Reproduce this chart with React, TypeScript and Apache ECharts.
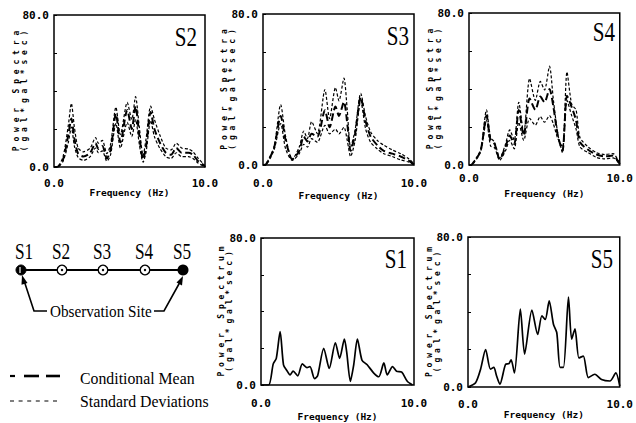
import React, { useEffect, useRef } from "react";
import * as echarts from "echarts";

// ---- data ----
const s2Freq = [0, 0.2, 0.6, 0.95, 1.15, 1.35, 1.6, 1.95, 2.4, 2.75, 2.95, 3.2, 3.5, 3.75, 4.1, 4.4, 4.85, 5.15, 5.4, 5.65, 5.9, 6.1, 6.4, 6.65, 7.0, 7.4, 7.75, 8.1, 8.45, 8.9, 9.2, 9.55, 9.9, 10];
const s2Mean = [0, 0, 4, 17, 25.5, 15, 7, 5.5, 7.5, 12.5, 9.5, 11, 4.5, 9, 28, 13, 30, 20, 32, 16.5, 4, 11, 29, 20, 13, 7.5, 6.5, 10, 7.5, 7.5, 6.5, 3, 1, 0];
const s2Upper = [0, 0, 5.5, 22, 33.5, 21, 10, 8, 10, 15.5, 12.5, 14, 7, 12, 31.5, 17, 34, 25, 37, 21, 6, 15, 32, 25, 17, 10, 9, 12.5, 10, 9.5, 8, 4.5, 1.5, 0];
const s2Lower = [0, 0, 3, 13, 21, 11, 5, 3.5, 5.5, 10, 7.5, 8.5, 3, 6.5, 23, 10, 23.5, 16, 25, 12, 2.5, 8, 24.5, 16, 10, 5.5, 4.5, 7.5, 5.5, 5.5, 4.5, 2, 0.5, 0];

const s3Freq = [0, 0.2, 0.73, 1.17, 1.5, 1.94, 2.4, 2.7, 2.94, 3.22, 3.6, 4.1, 4.41, 4.8, 5.03, 5.36, 5.58, 5.8, 6.1, 6.47, 6.8, 7.13, 7.57, 8.0, 8.56, 9.12, 9.67, 10];
const s3Upper = [0, 0.5, 9.5, 32, 15, 3, 9.5, 18, 14, 23, 16.5, 40, 24.5, 41, 34, 46, 29, 9.5, 18.5, 38, 25.5, 17.5, 13, 10.5, 8, 6, 3.2, 0.5];
const s3Mean = [0, 0.3, 9, 26, 13, 3, 7.5, 15, 12.5, 16.5, 15, 29, 20, 31, 26, 33.5, 22, 7.5, 16.5, 36, 23, 15, 10.5, 7.5, 6, 4.5, 2.2, 0.3];
const s3Lower = [0, 0.2, 8, 22, 8.5, 2.5, 6, 11, 9.5, 14, 12, 21, 16.5, 19, 16.5, 20, 13, 4.5, 13, 34, 19, 12, 8.5, 6, 4.5, 2.7, 1.5, 0];

const s4Freq = [0, 0.2, 0.77, 1.16, 1.43, 1.7, 2.04, 2.42, 2.7, 3.0, 3.3, 3.63, 4.02, 4.4, 4.73, 5.01, 5.34, 5.6, 5.89, 6.2, 6.5, 6.81, 7.1, 7.36, 7.9, 8.46, 9.0, 9.56, 10];
const s4Upper = [0, 0.5, 8, 29, 14.5, 12, 3.5, 11, 18.5, 13, 33, 16.5, 45.5, 34, 44, 39.5, 52, 34, 16.5, 6.5, 49, 32, 29, 14.5, 9.5, 6.5, 5.5, 6, 0.5];
const s4Mean = [0, 0.3, 7.5, 26, 13, 11, 3, 9.5, 15.5, 11, 29, 15.5, 35, 29, 36, 33, 40, 30.5, 15.5, 7.5, 36.5, 30.5, 23.5, 12, 8, 5.5, 4.5, 5, 0.5];
const s4Lower = [0, 0.2, 7, 23.5, 10, 9, 2.5, 7.5, 13, 8.5, 22.5, 13, 24.5, 21, 25.5, 22.5, 26, 21.5, 14, 9.5, 34, 26, 19, 9.5, 6.5, 4, 3.2, 3.7, 0.3];

const s1Freq = [0, 0.5, 0.8, 1.0, 1.25, 1.47, 1.68, 1.9, 2.1, 2.4, 2.7, 3.0, 3.2, 3.5, 3.7, 4.1, 4.46, 4.86, 5.14, 5.45, 5.6, 5.84, 6.06, 6.3, 6.6, 6.94, 7.37, 7.7, 8.03, 8.25, 8.6, 8.86, 9.2, 9.56, 9.9];
const s1Power = [0, 0, 11.5, 14.5, 29, 11, 8, 5.5, 7.5, 5, 11.5, 9.5, 10, 3.5, 5, 20, 9, 23, 14.5, 25, 18, 2, 11, 25, 13.5, 11, 6.5, 4.5, 12, 5.5, 10, 7.5, 7, 2, 0];

const s5Freq = [0, 0.5, 0.83, 1.16, 1.48, 1.7, 1.88, 2.1, 2.47, 2.7, 2.84, 3.06, 3.45, 3.73, 4.21, 4.59, 4.87, 5.09, 5.35, 5.63, 5.85, 6.07, 6.29, 6.62, 6.83, 7.05, 7.31, 7.6, 7.93, 8.36, 8.8, 9.35, 9.74, 10];
const s5Power = [0, 2.3, 9.5, 20, 9.5, 10.5, 6, 1.5, 12, 12.5, 14.5, 7.5, 41.5, 17.5, 41, 28, 38, 36, 46, 33.5, 29, 10.5, 10.5, 48, 25.5, 31, 15.5, 16.5, 5, 6.8, 4, 3.2, 7.5, 0.5];

const xTickLabels = ["0.0", "10.0"];
const yTickLabels = ["0.0", "80.0"];
const siteNames = ["S1", "S2", "S3", "S4", "S5"];
const legendNames = ["Conditional Mean", "Standard Deviations"];

const pairs = (f: number[], v: number[]) => f.map((x, i) => [x, v[i]]);

const spaced = (s: string) => s.split("").join(" ");

export default function App() {
  const ref = useRef<HTMLDivElement>(null);
  useEffect(() => {
    if (!ref.current) return;
    const chart = echarts.init(ref.current, null, { renderer: "svg" });

    const panels = [
      { name: "S2", left: 54, top: 15, width: 151, height: 152, lab: 11, nameGap: 20, yGap: 26, yTitle: "Power Spectra", title: { x: 197, y: 37 } },
      { name: "S3", left: 263, top: 14, width: 151, height: 151, lab: 13, nameGap: 25, yGap: 27, yTitle: "Power Spectra", title: { x: 409, y: 36 } },
      { name: "S4", left: 469, top: 13, width: 152, height: 152, lab: 8, nameGap: 23, yGap: 27, yTitle: "Power Spectra", title: { x: 615, y: 32 } },
      { name: "S1", left: 261, top: 238, width: 153, height: 147, lab: 13, nameGap: 26, yGap: 28, yTitle: "Power Spectrum", title: { x: 407, y: 259 } },
      { name: "S5", left: 468, top: 237, width: 153, height: 150, lab: 12, nameGap: 22, yGap: 27, yTitle: "Power Spectrum", title: { x: 613, y: 259 } },
    ];

    const mono = "DejaVu Sans Mono";
    const serif = "'Liberation Serif', 'Times New Roman', serif";

    const meanStyle = { color: "#000", width: 2, type: [7, 3.5] as number[] };
    const sdStyle = { color: "#000", width: 1.2, type: [3, 2] as number[] };
    const obsStyle = { color: "#000", width: 1.7, type: "solid" };

    const mk = (idx: number, name: string, data: number[][], ls: any) => ({
      type: "line",
      name,
      xAxisIndex: idx,
      yAxisIndex: idx,
      data,
      showSymbol: false,
      symbol: "none",
      smooth: 0.25,
      lineStyle: ls,
      itemStyle: { color: "#000" },
      z: 3,
    });

    const series = [
      mk(0, "S2 upper", pairs(s2Freq, s2Upper), sdStyle),
      mk(0, "S2 mean", pairs(s2Freq, s2Mean), meanStyle),
      mk(0, "S2 lower", pairs(s2Freq, s2Lower), sdStyle),
      mk(1, "S3 upper", pairs(s3Freq, s3Upper), sdStyle),
      mk(1, "S3 mean", pairs(s3Freq, s3Mean), meanStyle),
      mk(1, "S3 lower", pairs(s3Freq, s3Lower), sdStyle),
      mk(2, "S4 upper", pairs(s4Freq, s4Upper), sdStyle),
      mk(2, "S4 mean", pairs(s4Freq, s4Mean), meanStyle),
      mk(2, "S4 lower", pairs(s4Freq, s4Lower), sdStyle),
      mk(3, "S1", pairs(s1Freq, s1Power), obsStyle),
      mk(4, "S5", pairs(s5Freq, s5Power), obsStyle),
    ];

    const txt = (text: string, x: number, y: number, size: number, sx: number, align: string, font = serif) => ({
      type: "text",
      x,
      y,
      scaleX: sx,
      z: 10,
      style: {
        text,
        font: `${size}px ${font}`,
        fill: "#000",
        align,
        verticalAlign: "middle",
      },
    });

    const siteX = [21, 62, 103, 145, 183];
    const labelX = [24, 61, 102, 144, 182];
    const lineY = 270;

    const graphic: any[] = [];
    panels.forEach((p) => graphic.push(txt(p.name, p.title.x, p.title.y, 27, 0.78, "right")));
    siteNames.forEach((s, i) => graphic.push(txt(s, labelX[i], 251, 23, 0.75, "center")));
    graphic.push({ type: "line", z: 5, shape: { x1: siteX[0], y1: lineY, x2: siteX[4], y2: lineY }, style: { stroke: "#000", lineWidth: 2 } });
    graphic.push({ type: "circle", z: 6, shape: { cx: siteX[0], cy: lineY, r: 5 }, style: { fill: "#000", stroke: "#000", lineWidth: 1 } });
    graphic.push({ type: "line", z: 7, shape: { x1: siteX[0] - 1, y1: lineY - 3, x2: siteX[0] - 1, y2: lineY + 3 }, style: { stroke: "#fff", lineWidth: 1.2 } });
    [1, 2, 3].forEach((i) => {
      graphic.push({ type: "circle", z: 6, shape: { cx: siteX[i], cy: lineY, r: 4.8 }, style: { fill: "#fff", stroke: "#000", lineWidth: 1.4 } });
      graphic.push({ type: "circle", z: 7, shape: { cx: siteX[i], cy: lineY, r: 1.2 }, style: { fill: "#000" } });
    });
    graphic.push({ type: "circle", z: 6, shape: { cx: siteX[4], cy: lineY, r: 5.5 }, style: { fill: "#000" } });
    graphic.push({ type: "polyline", z: 5, shape: { points: [[47, 311], [34, 311], [24.5, 282]] }, style: { stroke: "#000", lineWidth: 1.6, fill: null } });
    graphic.push({ type: "polygon", z: 5, shape: { points: [[22, 275], [27.5, 283], [21.5, 284.8]] }, style: { fill: "#000" } });
    graphic.push({ type: "polyline", z: 5, shape: { points: [[154, 311], [164, 311], [179.5, 283]] }, style: { stroke: "#000", lineWidth: 1.6, fill: null } });
    graphic.push({ type: "polygon", z: 5, shape: { points: [[183, 276], [182, 285.5], [176.5, 282.5]] }, style: { fill: "#000" } });
    graphic.push(txt("Observation Site", 50, 311, 16, 0.95, "left"));
    graphic.push({ type: "line", z: 5, shape: { x1: 10, y1: 376, x2: 15, y2: 376 }, style: { stroke: "#000", lineWidth: 2.2 } });
    graphic.push({ type: "line", z: 5, shape: { x1: 24, y1: 376, x2: 39, y2: 376 }, style: { stroke: "#000", lineWidth: 2.6 } });
    graphic.push({ type: "line", z: 5, shape: { x1: 46, y1: 376, x2: 60, y2: 376 }, style: { stroke: "#000", lineWidth: 2.6 } });
    graphic.push({ type: "line", z: 5, shape: { x1: 10, y1: 401, x2: 60, y2: 401 }, style: { stroke: "#000", lineWidth: 1.2, lineDash: [4, 4.6] } });
    graphic.push(txt(legendNames[0], 80, 378, 17, 0.93, "left"));
    graphic.push(txt(legendNames[1], 80, 401, 17, 0.93, "left"));

    const option: any = {
      animation: false,
      backgroundColor: "#fff",
      grid: panels.map((p) => ({
        left: p.left,
        top: p.top,
        width: p.width,
        height: p.height,
        show: true,
        borderColor: "#000",
        borderWidth: 1.5,
        backgroundColor: "transparent",
      })),
      xAxis: panels.map((p, i) => ({
        type: "value",
        gridIndex: i,
        min: 0,
        max: 10,
        interval: 10,
        name: "Frequency (Hz)",
        nameLocation: "middle",
        nameGap: p.nameGap,
        nameMoveOverlap: false,
        nameTextStyle: { fontFamily: mono, fontWeight: "bold", fontSize: 9.5, color: "#000" },
        axisLine: { show: false },
        axisTick: { show: false },
        splitLine: { show: false },
        axisLabel: {
          margin: p.lab,
          fontFamily: mono,
          fontWeight: "bold",
          fontSize: 11,
          color: "#000",
          formatter: (v: number) => (v === 0 ? xTickLabels[0] : v === 10 ? xTickLabels[1] : ""),
        },
      })),
      yAxis: panels.map((p, i) => ({
        type: "value",
        gridIndex: i,
        min: 0,
        max: 80,
        interval: 20,
        name: spaced(p.yTitle) + "\n" + spaced("(gal*gal*sec)"),
        nameLocation: "middle",
        nameRotate: 90,
        nameGap: p.yGap,
        nameMoveOverlap: false,
        nameTextStyle: { fontFamily: mono, fontWeight: "bold", fontSize: 8, lineHeight: 7.5, color: "#000" },
        axisLine: { show: false },
        axisTick: { show: true, inside: true, length: 3, lineStyle: { color: "#000", width: 1 } },
        splitLine: { show: false },
        axisLabel: {
          margin: 5,
          fontFamily: mono,
          fontWeight: "bold",
          fontSize: 11,
          color: "#000",
          formatter: (v: number) => (v === 0 ? yTickLabels[0] : v === 80 ? yTickLabels[1] : ""),
        },
      })),
      series,
      graphic,
    };
    chart.setOption(option);
    return () => chart.dispose();
  }, []);

  return (
    <div
      ref={ref}
      style={{ position: "fixed", left: 0, top: 0, width: 636, height: 423, background: "#fff" }}
    />
  );
}
